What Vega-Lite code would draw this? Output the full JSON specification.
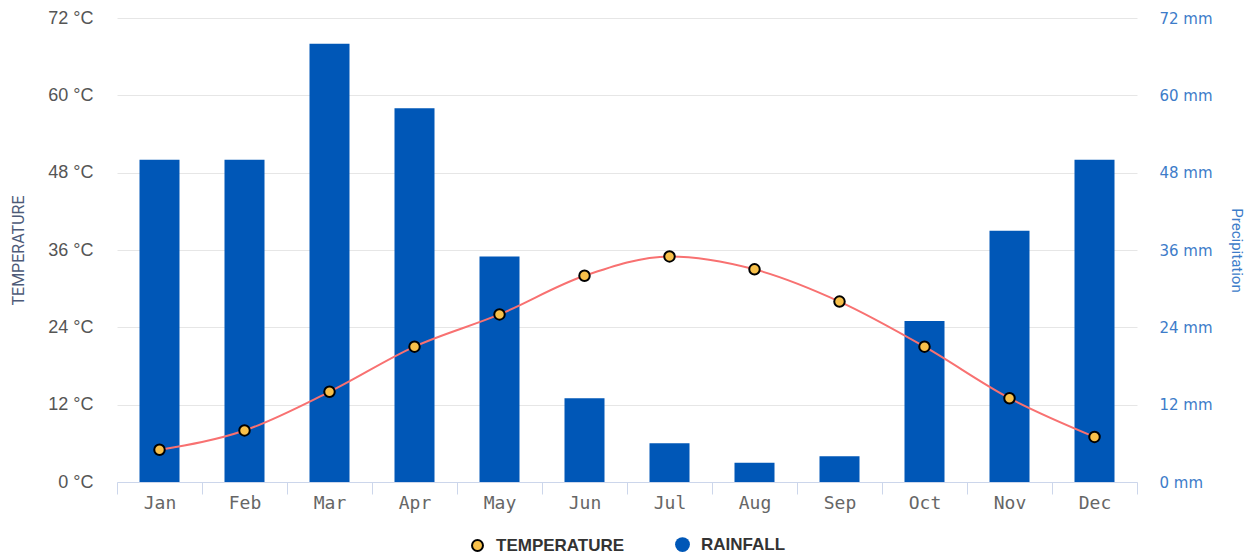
{
  "$schema": "https://vega.github.io/schema/vega-lite/v6.json",
  "width": 1020,
  "height": 464,
  "autosize": {"type": "none"},
  "padding": {"left": 117, "top": 18, "right": 111, "bottom": 73},
  "background": "white",
  "config": {
    "view": {"stroke": null},
    "axis": {"labelFont": "Liberation Sans", "titleFont": "Roboto"},
    "legend": {"layout": {"bottom": {"anchor": "middle"}}}
  },
  "data": {
    "values": [
      {"month": "Jan", "temp": 5, "rain": 50},
      {"month": "Feb", "temp": 8, "rain": 50},
      {"month": "Mar", "temp": 14, "rain": 68},
      {"month": "Apr", "temp": 21, "rain": 58},
      {"month": "May", "temp": 26, "rain": 35},
      {"month": "Jun", "temp": 32, "rain": 13},
      {"month": "Jul", "temp": 35, "rain": 6},
      {"month": "Aug", "temp": 33, "rain": 3},
      {"month": "Sep", "temp": 28, "rain": 4},
      {"month": "Oct", "temp": 21, "rain": 25},
      {"month": "Nov", "temp": 13, "rain": 39},
      {"month": "Dec", "temp": 7, "rain": 50}
    ]
  },
  "encoding": {
    "x": {
      "field": "month",
      "type": "ordinal",
      "sort": null,
      "scale": {"paddingInner": 0, "paddingOuter": 0},
      "axis": {
        "title": null,
        "labelAngle": 0,
        "labelFont": "DejaVu Sans Mono",
        "labelFontSize": 18,
        "labelColor": "#666666",
        "labelPadding": 0,
        "domainColor": "#ccd6eb",
        "tickColor": "#ccd6eb",
        "tickSize": 12,
        "tickBand": "extent",
        "grid": false
      }
    }
  },
  "layer": [
    {
      "mark": {"type": "bar", "width": 40, "color": "#0057b7"},
      "encoding": {
        "y": {
          "field": "rain",
          "type": "quantitative",
          "scale": {"domain": [0, 72]},
          "axis": {
            "orient": "right",
            "title": "Precipitation",
            "titleColor": "#3d7cc9",
            "titleFontSize": 15,
            "titleFontWeight": "normal",
            "titlePadding": 16,
            "values": [0, 12, 24, 36, 48, 60, 72],
            "labelExpr": "datum.value + ' mm'",
            "labelFont": "DejaVu Sans",
            "labelColor": "#3d7cc9",
            "labelFontSize": 15,
            "labelPadding": 22,
            "ticks": false,
            "domain": false,
            "grid": false
          }
        },
        "color": {
          "datum": "RAINFALL",
          "type": "nominal",
          "scale": {"domain": ["TEMPERATURE", "RAINFALL"], "range": ["#f7c04a", "#0057b7"]},
          "legend": {
            "orient": "bottom",
            "direction": "horizontal",
            "title": null,
            "symbolType": "circle",
            "symbolSize": 220,
            "symbolStrokeWidth": 2,
            "labelFont": "Liberation Sans",
            "labelFontSize": 17,
            "labelFontWeight": "bold",
            "labelColor": "#333333",
            "labelOffset": 10,
            "columnPadding": 46,
            "offset": 24,
            "encode": {
              "symbols": {
                "update": {
                  "stroke": {"signal": "datum.value === 'TEMPERATURE' ? '#000000' : 'transparent'"},
                  "fill": {"signal": "datum.value === 'TEMPERATURE' ? '#f7c04a' : '#0057b7'"},
                  "size": {"signal": "datum.value === 'TEMPERATURE' ? 120 : 220"}
                }
              }
            }
          }
        }
      }
    },
    {
      "encoding": {
        "y": {
          "field": "temp",
          "type": "quantitative",
          "scale": {"domain": [0, 72]},
          "axis": {
            "orient": "left",
            "title": "TEMPERATURE",
            "titleColor": "#4d5a77",
            "titleFontSize": 16,
            "titleFontWeight": "normal",
            "titlePadding": 21,
            "values": [0, 12, 24, 36, 48, 60, 72],
            "labelExpr": "datum.value + ' °C'",
            "labelColor": "#555555",
            "labelFontSize": 18,
            "labelPadding": 24,
            "ticks": false,
            "domain": false,
            "grid": true,
            "gridColor": "#e6e6e6"
          }
        }
      },
      "layer": [
        {
          "mark": {"type": "line", "interpolate": "monotone", "color": "#f87171", "strokeWidth": 2}
        },
        {
          "mark": {"type": "point", "filled": true, "fill": "#f7c04a", "stroke": "#000000", "strokeWidth": 2, "size": 110, "opacity": 1},
          "encoding": {
            "color": {"datum": "TEMPERATURE", "type": "nominal"}
          }
        }
      ]
    }
  ],
  "resolve": {"scale": {"y": "independent"}}
}
